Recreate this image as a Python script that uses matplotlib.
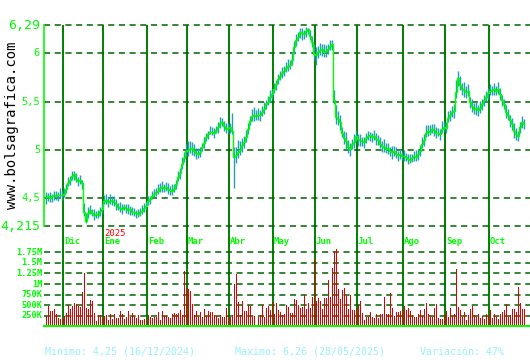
import matplotlib
matplotlib.use("Agg")
import matplotlib.pyplot as plt
import matplotlib.transforms as mtransforms
import numpy as np

W, H = 530, 360

# ---------------- data ----------------
close = [
    4.51, 4.52, 4.50, 4.52, 4.53, 4.52, 4.53, 4.54, 4.53, 4.55,
    4.60, 4.66, 4.69, 4.73, 4.75, 4.70, 4.68, 4.69, 4.66, 4.36,
    4.27, 4.35, 4.38, 4.35, 4.33, 4.34, 4.33, 4.37, 4.39, 4.47,
    4.48, 4.46, 4.47, 4.48, 4.46, 4.44, 4.41, 4.40, 4.39, 4.41,
    4.40, 4.38, 4.39, 4.36, 4.36, 4.35, 4.34, 4.36, 4.37, 4.40,
    4.42, 4.47, 4.49, 4.52, 4.55, 4.57, 4.58, 4.61, 4.62, 4.61,
    4.62, 4.60, 4.59, 4.58, 4.60, 4.65, 4.72, 4.76, 4.85, 4.92,
    4.99, 5.00, 5.01, 5.02, 4.99, 4.97, 4.96, 4.98, 5.03, 5.07,
    5.13, 5.16, 5.19, 5.19, 5.17, 5.21, 5.24, 5.28, 5.29, 5.25,
    5.22, 5.23, 5.24, 5.20, 4.93, 4.95, 4.98, 5.00, 5.05, 5.08,
    5.13, 5.22, 5.30, 5.35, 5.36, 5.35, 5.36, 5.36, 5.39, 5.42,
    5.47, 5.50, 5.55, 5.58, 5.63, 5.68, 5.73, 5.76, 5.79, 5.82,
    5.85, 5.87, 5.88, 5.93, 6.06, 6.13, 6.17, 6.22, 6.21, 6.20,
    6.23, 6.25, 6.18, 6.11, 5.99, 5.98, 6.01, 6.03, 6.04, 6.01,
    6.02, 6.04, 6.07, 6.09, 5.52, 5.34, 5.32, 5.29, 5.18, 5.12,
    5.09, 5.03, 5.01, 5.06, 5.08, 5.14, 5.11, 5.10, 5.09, 5.08,
    5.12, 5.14, 5.15, 5.13, 5.14, 5.11, 5.10, 5.06, 5.04, 5.03,
    5.01, 5.02, 4.99, 4.98, 4.99, 4.96, 4.95, 4.96, 4.94, 4.94,
    4.93, 4.91, 4.90, 4.92, 4.94, 4.93, 4.96, 4.99, 5.06, 5.10,
    5.18, 5.20, 5.19, 5.22, 5.21, 5.17, 5.18, 5.16, 5.22, 5.24,
    5.23, 5.33, 5.36, 5.39, 5.40, 5.60, 5.74, 5.67, 5.63, 5.62,
    5.60, 5.61, 5.50, 5.45, 5.42, 5.43, 5.41, 5.43, 5.47, 5.52,
    5.55, 5.59, 5.61, 5.62, 5.63, 5.61, 5.63, 5.58, 5.52, 5.47,
    5.39, 5.36, 5.31, 5.27, 5.20, 5.16, 5.14, 5.24, 5.29, 5.27,
]

# high above close / low below close, in hundredths
high_ext = [
    6, 4, 7, 3, 5, 6, 4, 7, 5, 6,
    5, 6, 4, 5, 3, 6, 4, 5, 3, 9,
    8, 6, 5, 4, 6, 3, 5, 4, 5, 6,
    7, 5, 8, 4, 6, 5, 4, 6, 5, 3,
    4, 6, 3, 5, 4, 3, 5, 4, 6, 5,
    4, 5, 3, 6, 5, 4, 7, 5, 6, 4,
    5, 6, 4, 7, 5, 4, 6, 5, 8, 6,
    7, 9, 8, 6, 7, 5, 6, 5, 4, 6,
    5, 4, 6, 5, 6, 4, 5, 6, 4, 5,
    6, 5, 4, 18, 10, 8, 12, 9, 7, 6,
    8, 6, 5, 7, 8, 6, 7, 5, 6, 7,
    5, 6, 7, 5, 6, 4, 5, 6, 7, 5,
    6, 7, 5, 8, 6, 7, 5, 4, 5, 4,
    4, 1, 6, 7, 10, 8, 6, 7, 5, 8,
    6, 5, 7, 4, 10, 12, 8, 7, 6, 8,
    10, 7, 6, 5, 8, 6, 5, 6, 4, 5,
    5, 6, 4, 5, 7, 6, 5, 7, 5, 8,
    6, 5, 4, 6, 5, 7, 4, 5, 4, 6,
    4, 5, 6, 4, 5, 7, 5, 6, 7, 6,
    8, 6, 7, 5, 6, 7, 5, 6, 8, 5,
    6, 7, 5, 6, 7, 12, 8, 9, 6, 8,
    6, 7, 5, 8, 6, 7, 5, 8, 6, 5,
    6, 5, 7, 4, 6, 5, 7, 6, 5, 6,
    7, 6, 5, 6, 8, 7, 6, 5, 6, 5,
]
low_ext = [
    7, 5, 4, 6, 5, 4, 6, 3, 5, 4,
    4, 3, 5, 4, 6, 3, 5, 4, 6, 4,
    2, 5, 4, 3, 5, 4, 3, 5, 4, 3,
    4, 5, 3, 5, 4, 6, 3, 4, 5, 3,
    5, 4, 6, 3, 4, 5, 3, 4, 3, 4,
    3, 4, 5, 3, 4, 5, 3, 4, 5, 4,
    4, 5, 6, 4, 3, 5, 4, 6, 5, 4,
    5, 6, 4, 7, 5, 6, 4, 5, 4, 5,
    4, 5, 3, 4, 5, 4, 6, 5, 4, 5,
    4, 5, 6, 4, 32, 8, 6, 5, 7, 6,
    5, 6, 4, 5, 6, 4, 5, 6, 4, 5,
    5, 4, 6, 5, 4, 6, 5, 4, 5, 6,
    5, 6, 4, 5, 7, 6, 5, 6, 7, 5,
    6, 5, 4, 5, 6, 10, 6, 5, 7, 5,
    6, 5, 4, 6, 5, 7, 6, 8, 5, 6,
    8, 6, 7, 5, 6, 5, 7, 6, 5, 6,
    5, 4, 6, 5, 4, 6, 5, 4, 6, 5,
    4, 6, 5, 7, 5, 4, 6, 5, 4, 5,
    4, 5, 3, 4, 5, 4, 6, 5, 4, 6,
    5, 6, 4, 5, 7, 5, 4, 6, 5, 4,
    5, 4, 6, 5, 7, 6, 8, 5, 6, 7,
    6, 5, 7, 6, 5, 7, 6, 5, 6, 7,
    5, 6, 4, 5, 6, 4, 5, 6, 7, 5,
    6, 5, 7, 6, 8, 6, 5, 7, 6, 5,
]

# volume in thousands
volume = [
    250, 490, 370, 370, 410, 300, 190, 175, 190, 250,
    310, 500, 415, 470, 550, 530, 490, 460, 815, 1250,
    440, 410, 625, 600, 310, 120, 265, 265, 200, 250,
    265, 145, 280, 175, 290, 200, 200, 360, 300, 175,
    210, 360, 215, 310, 250, 200, 265, 150, 150, 170,
    130, 260, 215, 200, 215, 215, 335, 145, 360, 240,
    240, 215, 200, 280, 310, 300, 310, 385, 265, 1310,
    910, 880, 830, 520, 265, 360, 230, 330, 230, 410,
    250, 360, 335, 335, 265, 250, 190, 270, 215, 230,
    430, 200, 215, 265, 1000, 1230, 575, 270, 600, 360,
    360, 510, 480, 250, 250, 20, 230, 265, 510, 225,
    430, 480, 385, 575, 300, 550, 385, 335, 265, 300,
    495, 455, 310, 310, 650, 625, 510, 430, 455, 750,
    410, 550, 430, 690, 1580, 600, 670, 600, 410, 670,
    670, 1090, 695, 1390, 1790, 1820, 890, 650, 855, 910,
    720, 410, 745, 385, 385, 410, 500, 600, 310, 145,
    230, 215, 330, 230, 190, 300, 190, 290, 300, 700,
    280, 280, 785, 430, 255, 350, 330, 360, 385, 480,
    385, 430, 360, 270, 230, 230, 300, 385, 240, 410,
    550, 300, 240, 215, 430, 520, 190, 170, 170, 265,
    360, 215, 430, 240, 300, 1360, 455, 385, 215, 335,
    145, 265, 410, 480, 265, 215, 280, 190, 240, 170,
    300, 250, 385, 190, 300, 215, 170, 300, 335, 385,
    530, 215, 265, 410, 410, 335, 940, 550, 410, 410,
]

month_labels = ["Dic", "Ene", "Feb", "Mar", "Abr", "May", "Jun", "Jul", "Ago", "Sep", "Oct"]
month_start = [9, 29, 51, 71, 92, 114, 135, 156, 179, 200, 222]

price_ticks = [6.29, 6.0, 5.5, 5.0, 4.5, 4.215]
price_tick_labels = ["6,29", "6", "5,5", "5", "4,5", "4,215"]
vol_ticks = [250, 500, 750, 1000, 1250, 1500, 1750]
vol_tick_labels = ["250K", "500K", "750K", "1M", "1.25M", "1.5M", "1.75M"]

footer = ["Minimo: 4,25 (16/12/2024)", "Maximo: 6,26 (28/05/2025)", "Variación: 47%"]

# ---------------- styling ----------------
LIME = "#00ff00"
DARKG = "#006400"
MONTHG = "#008000"
TEAL = "#22a0b0"
RED = "#e00000"
FOOT = "#99f0ff"
MONO = "DejaVu Sans Mono"

n = len(close)
idx = np.arange(n)
c = np.array(close)
hi = c + np.array(high_ext) / 100.0
lo = c - np.array(low_ext) / 100.0
XL = (-1, 242)


def rect(x0, y0, x1, y1):
    return [x0 / W, 1 - y1 / H, (x1 - x0) / W, (y1 - y0) / H]


fig = plt.figure(figsize=(W / 100, H / 100), dpi=100)
fig.patch.set_facecolor("white")

# background axes for month lines
ax_bg = fig.add_axes(rect(44, 25, 530, 326))
ax_bg.set_xlim(*XL)
ax_bg.set_ylim(0, 1)
ax_bg.axis("off")
for m in month_start:
    ax_bg.axvline(m - 0.5, color=MONTHG, lw=1.4, zorder=1)

trans = mtransforms.blended_transform_factory(ax_bg.transData, fig.transFigure)
for lab, m in zip(month_labels, month_start):
    ax_bg.text(m, 1 - 242 / H, lab, transform=trans, color=LIME, fontsize=6.5,
               family=MONO, fontweight="bold", ha="left", va="center")
ax_bg.text(month_start[1], 1 - 234 / H, "2025", transform=trans, color="#ff0000",
           fontsize=6.5, family=MONO, ha="left", va="center")

# price axes
ax = fig.add_axes(rect(44, 25, 530, 226))
ax.set_facecolor("none")
ax.set_xlim(*XL)
ax.set_ylim(4.215, 6.29)
for t in price_ticks:
    ax.axhline(t, color=DARKG, lw=1.1, ls=(0, (4, 3)), zorder=1, clip_on=False)
ax.vlines(idx, lo, hi, color=TEAL, lw=1.0, zorder=2)
ax.plot(idx, c, drawstyle="steps-mid", color=LIME, lw=1.0, zorder=3)
for s in ["top", "right", "bottom"]:
    ax.spines[s].set_visible(False)
ax.spines["left"].set_color(LIME)
ax.spines["left"].set_linewidth(1.2)
ax.set_xticks([])
ax.set_yticks([])
for t, lab in zip(price_ticks, price_tick_labels):
    big = lab in ("6,29", "4,215")
    ax.text(-0.008, t, lab, transform=ax.get_yaxis_transform(),
            color=LIME, fontsize=9.5 if big else 7.5, family=MONO,
            ha="right", va="center")

# volume axes
ax_v = fig.add_axes(rect(44, 248, 530, 326.3))
ax_v.set_facecolor("none")
ax_v.set_xlim(*XL)
ax_v.set_ylim(0, 1750 * (326.3 - 248) / (326.3 - 252.3))
for t in vol_ticks:
    ax_v.axhline(t, color=DARKG, lw=1.1, ls=(0, (4, 3)), zorder=1)
ax_v.bar(idx, volume, width=0.5, color=RED, zorder=2)
for s in ["top", "right", "left"]:
    ax_v.spines[s].set_visible(False)
ax_v.spines["bottom"].set_color(LIME)
ax_v.spines["bottom"].set_linewidth(1.5)
ax_v.spines["bottom"].set_zorder(4)
ax_v.set_xticks([])
ax_v.set_yticks([])
for t, lab in zip(vol_ticks, vol_tick_labels):
    ax_v.text(-0.003, t, lab, transform=ax_v.get_yaxis_transform(), color=LIME,
              fontsize=6.2, family=MONO, fontweight="bold", ha="right", va="center")

# watermark
fig.text(12 / W, 1 - 125 / H, "www.bolsagrafica.com", rotation=90, color="black",
         fontsize=10, family=MONO, ha="center", va="center")

# footer
for x, txt in zip([45, 235, 420], footer):
    fig.text(x / W, 1 - 352 / H, txt, color=FOOT, fontsize=7.2, family=MONO,
             ha="left", va="center")

fig.savefig("out.png", dpi=100, facecolor="white")
